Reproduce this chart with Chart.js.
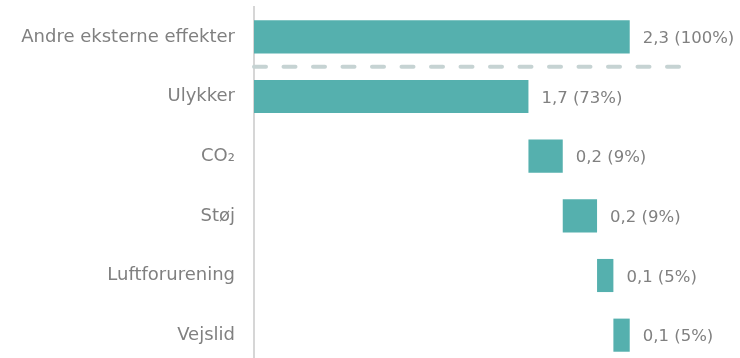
<!DOCTYPE html>
<html>
<head>
<meta charset="utf-8">
<script src="https://cdn.jsdelivr.net/npm/chart.js@4"></script>
<style>
  html, body { margin: 0; padding: 0; background: #ffffff; overflow: hidden; }
  canvas { display: block; }
</style>
</head>
<body>
<canvas id="chart" width="740" height="366"></canvas>
<script>
// categories and values (waterfall: total first, then parts stacked up to total)
const categories = ['Andre eksterne effekter', 'Ulykker', 'CO\u2082', 'St\u00f8j', 'Luftforurening', 'Vejslid'];
const values = [2.3, 1.68, 0.21, 0.21, 0.10, 0.10];
const valueLabels = ['2,3 (100%)', '1,7 (73%)', '0,2 (9%)', '0,2 (9%)', '0,1 (5%)', '0,1 (5%)'];
const xMax = 2.62;

// build floating ranges: first bar is the total, the rest accumulate
const ranges = [];
let running = 0;
values.forEach((v, i) => {
    if (i === 0) {
        ranges.push([0, v]);
    } else {
        ranges.push([running, running + v]);
        running += v;
    }
});

const textGrey = '#808080';
const fontFamily = '"DejaVu Sans", sans-serif';

// value labels to the right of each bar
const valueLabelPlugin = {
    id: 'valueLabels',
    afterDatasetsDraw(chart) {
        const ctx = chart.ctx;
        const meta = chart.getDatasetMeta(0);
        ctx.save();
        ctx.font = '16.5px ' + fontFamily;
        ctx.fillStyle = textGrey;
        ctx.textAlign = 'left';
        ctx.textBaseline = 'middle';
        meta.data.forEach((bar, i) => {
            ctx.fillText(valueLabels[i], bar.x + 13, bar.y + 2);
        });
        ctx.restore();
    }
};

// dashed separator between the total and its parts
const separatorPlugin = {
    id: 'separator',
    afterDatasetsDraw(chart) {
        const ctx = chart.ctx;
        const y = chart.scales.y;
        const yPos = (y.getPixelForValue(0) + y.getPixelForValue(1)) / 2;
        ctx.save();
        ctx.strokeStyle = '#c6d3d3';
        ctx.lineWidth = 4;
        ctx.lineCap = 'round';
        ctx.setLineDash([12, 17.5]);
        ctx.beginPath();
        ctx.moveTo(chart.chartArea.left, yPos);
        ctx.lineTo(chart.chartArea.right - 2, yPos);
        ctx.stroke();
        ctx.restore();
    }
};

new Chart(document.getElementById('chart'), {
    type: 'bar',
    data: {
        labels: categories,
        datasets: [{
            data: ranges,
            backgroundColor: '#55b0ae',
            borderWidth: 0,
            borderSkipped: false,
            categoryPercentage: 1,
            barPercentage: 0.555
        }]
    },
    options: {
        indexAxis: 'y',
        responsive: false,
        animation: false,
        layout: {
            padding: { top: 7, right: 58, bottom: 1, left: 0 }
        },
        plugins: {
            legend: { display: false },
            tooltip: { enabled: false }
        },
        scales: {
            x: {
                display: false,
                min: 0,
                max: xMax
            },
            y: {
                grid: { display: false, drawTicks: false },
                border: { display: true, color: '#d6d6d6', width: 2 },
                ticks: {
                    color: textGrey,
                    padding: 19,
                    font: { family: fontFamily, size: 18 }
                },
                afterFit(scale) {
                    scale.width = 254;
                    scale.paddingTop = 0;
                    scale.paddingBottom = 0;
                }
            }
        }
    },
    plugins: [separatorPlugin, valueLabelPlugin]
});
</script>
</body>
</html>
